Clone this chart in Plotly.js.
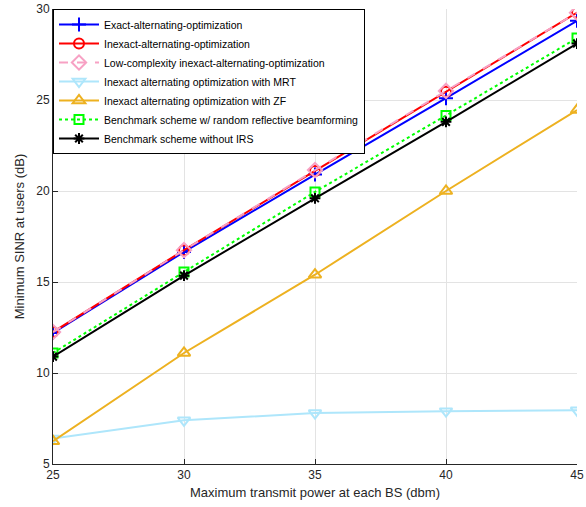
<!DOCTYPE html>
<html><head><meta charset="utf-8">
<script src="https://cdn.plot.ly/plotly-3.0.1.min.js"></script>
<style>body{margin:0;background:#fff}#c{width:586px;height:507px}</style>
</head><body><div id="c"></div>
<script>
const power = [25, 30, 35, 40, 45];
const exactAO = [12.2, 16.65, 20.9, 25.1, 29.35];
const inexactAO = [12.25, 16.75, 21.1, 25.45, 29.8];
const lowComplexity = [12.25, 16.75, 21.15, 25.5, 29.8];
const inexactMRT = [6.4, 7.4, 7.8, 7.9, 7.95];
const inexactZF = [6.25, 11.1, 15.4, 20.0, 24.45];
const randomIRS = [11.1, 15.55, 19.95, 24.15, 28.4];
const noIRS = [10.9, 15.35, 19.6, 23.8, 28.1];
const names = [
  'Exact-alternating-optimization',
  'Inexact-alternating-optimization',
  'Low-complexity inexact-alternating-optimization',
  'Inexact alternating optimization with MRT',
  'Inexact alternating optimization with ZF',
  'Benchmark scheme w/ random reflective beamforming',
  'Benchmark scheme without IRS'
];
const tickVals = [25, 30, 35, 40, 45];
const yTickVals = [5, 10, 15, 20, 25, 30];

function tr(y, name, color, dash, symbol, size) {
  return {x: power, y: y, name: name, type: 'scatter', mode: 'lines+markers',
    line: {color: color, width: 2, dash: dash},
    marker: {symbol: symbol, size: size, color: color, line: {color: color, width: 2}}};
}
const data = [
  tr(exactAO, names[0], '#0000ff', 'solid', 'cross-thin-open', 10),
  tr(inexactAO, names[1], '#ff0000', 'solid', 'circle-open', 10),
  tr(lowComplexity, names[2], '#f7a1c4', 'dash', 'diamond-open', 11),
  tr(inexactMRT, names[3], '#aee6fb', 'solid', 'triangle-down-open', 11),
  tr(inexactZF, names[4], '#edb120', 'solid', 'triangle-up-open', 11),
  tr(randomIRS, names[5], '#00ff00', 'dot', 'square-open', 9),
  tr(noIRS, names[6], '#000000', 'solid', 'asterisk-open', 9)
];
const layout = {
  width: 586, height: 507,
  margin: {l: 53, r: 9, t: 9, b: 43},
  paper_bgcolor: '#fff', plot_bgcolor: '#fff',
  font: {family: 'Liberation Sans, Arial, sans-serif', size: 12, color: '#262626'},
  showlegend: true,
  legend: {x: 0, y: 1, xanchor: 'left', yanchor: 'top', bgcolor: '#fff',
    bordercolor: '#000', borderwidth: 1, font: {size: 10.5, color: '#000'},
    tracegroupgap: 0, itemwidth: 40},
  xaxis: {range: [25, 45], tickvals: tickVals, ticks: 'inside', ticklen: 5,
    tickcolor: '#262626', showline: true, linecolor: '#262626', linewidth: 1,
    mirror: false, showgrid: true, gridcolor: '#e3e3e3', zeroline: false,
    title: {text: 'Maximum transmit power at each BS (dbm)', font: {size: 13}, standoff: 6}},
  yaxis: {range: [5, 30], tickvals: yTickVals, ticks: 'inside', ticklen: 5,
    tickcolor: '#262626', showline: true, linecolor: '#262626', linewidth: 1,
    showgrid: true, gridcolor: '#e3e3e3', zeroline: false,
    title: {text: 'Minimum SINR at users (dB)', font: {size: 13}, standoff: 8}}
};
Plotly.newPlot('c', data, layout, {displayModeBar: false, staticPlot: true});
</script></body></html>
